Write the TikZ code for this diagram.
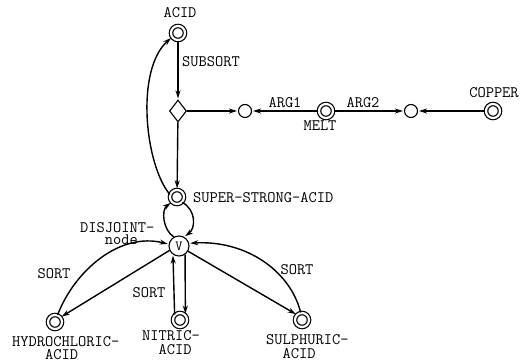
\documentclass[tikz,border=0pt]{standalone}
\usetikzlibrary{shapes.geometric,arrows.meta}
\begin{document}
\begin{tikzpicture}[x=1pt,y=-1pt,
  lbl/.style={font=\fontsize{16}{14}\selectfont\ttfamily,inner sep=0pt},
  dbl/.style={circle,draw,line width=1.2pt,double,double distance=2.2pt,minimum size=14pt,inner sep=0pt},
  jn/.style={circle,draw,line width=1.1pt,minimum size=13pt,inner sep=0pt},
  arr/.style={line width=1.4pt,-{Stealth[length=8pt,width=5pt]},shorten >=1pt}]
\useasboundingbox (0,0) rectangle (529,363);

% concept nodes
\node[dbl] (acid) at (178,33) {};
\node[diamond,draw,line width=1.1pt,minimum width=17pt,minimum height=22pt,inner sep=0pt] (sub) at (178,111) {};
\node[jn] (a1) at (245,111) {};
\node[dbl] (melt) at (326,111) {};
\node[jn] (a2) at (411,111) {};
\node[dbl] (copper) at (493,111) {};
\node[dbl] (ssa) at (177,197) {};
\node[circle,draw,line width=1.1pt,minimum size=20pt,inner sep=0pt,
      font=\fontsize{14}{14}\selectfont\ttfamily] (dis) at (179,246) {V};
\node[dbl] (hcl) at (55,322) {};
\node[dbl] (nit) at (180,320) {};
\node[dbl] (sul) at (302,320) {};

% labels
\node[lbl,anchor=base] at (180,18) {ACID};
\node[lbl,anchor=base west] at (182,67) {SUBSORT};
\node[lbl,anchor=base] at (285,108) {ARG1};
\node[lbl,anchor=base] at (320,131) {MELT};
\node[lbl,anchor=base] at (363,108) {ARG2};
\node[lbl,anchor=base] at (494,98) {COPPER};
\node[lbl,anchor=base west] at (193,202) {SUPER-STRONG-ACID};
\node[lbl,anchor=north west,align=left,font=\fontsize{16}{12}\selectfont\ttfamily] at (80,222) {DISJOINT-\\\hphantom{DIS}node};
\node[lbl,anchor=north west,align=left,font=\fontsize{16}{13}\selectfont\ttfamily] at (12,336) {HYDROCHLORIC-\\\hphantom{HYDR}ACID};
\node[lbl,anchor=north west,align=left] at (142,330) {NITRIC-\\\hphantom{NI}ACID};
\node[lbl,anchor=north west,align=left] at (266,334) {SULPHURIC-\\\hphantom{SU}ACID};
\node[lbl,anchor=base] at (54,278) {SORT};
\node[lbl,anchor=base] at (149,297) {SORT};
\node[lbl,anchor=base] at (297,274) {SORT};

% connectors
\draw[arr] (acid) -- (sub);
\draw[arr] (sub) -- (ssa);
\draw[arr] (sub) -- (a1);
\draw[arr] (melt) -- (a1);
\draw[arr] (melt) -- (a2);
\draw[arr] (copper) -- (a2);
\draw[arr] (ssa.160) .. controls (145,165) and (135,70) .. (acid.215);
\draw[arr] (dis.120) .. controls (163,230) and (161,210) .. (ssa.225);
\draw[arr] (ssa.315) .. controls (196,210) and (196,228) .. (dis.60);
\draw[arr] (hcl.70) .. controls (75,270) and (120,232) .. (dis.170);
\draw[arr] (dis.205) -- (hcl.40);
\draw[arr] (nit.135) -- (dis.235);
\draw[arr] (dis.305) -- (nit.45);
\draw[arr] (sul.100) .. controls (290,270) and (245,240) .. (dis.15);
\draw[arr] (dis.330) -- (sul.135);
\end{tikzpicture}
\end{document}
